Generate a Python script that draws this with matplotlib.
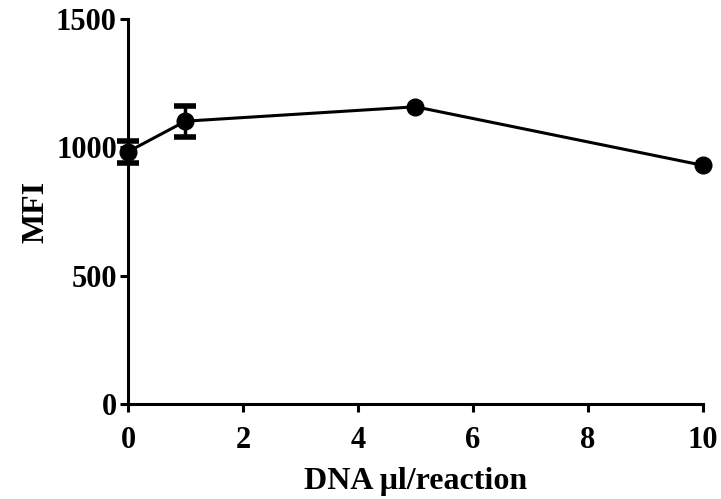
import matplotlib.pyplot as plt
import numpy as np

dna = [0, 1, 5, 10]
mfi = [983, 1102, 1158, 930]
err = [42, 60, 0, 0]

plt.rcParams['font.family'] = 'Liberation Serif'
plt.rcParams['font.weight'] = 'bold'

fig = plt.figure(figsize=(7.21, 4.99), dpi=100)
ax = fig.add_axes([0.1775, 0.19, 0.7975, 0.772])

ax.plot(dna, mfi, color='black', lw=2.2, marker='o', markersize=12,
        clip_on=False, zorder=3)
# error bars only where the SD is non-zero
has_err = [i for i in range(len(dna)) if err[i] > 0]
ax.errorbar([dna[i] for i in has_err], [mfi[i] for i in has_err],
            yerr=[err[i] for i in has_err], fmt='none', ecolor='black',
            capsize=8, capthick=4, elinewidth=2.5, clip_on=False, zorder=3)

ax.set_xlim(0, 10)
ax.set_ylim(0, 1500)
ax.set_xticks([0, 2, 4, 6, 8, 10])
ax.set_yticks([0, 500, 1000, 1500])

ax.spines['top'].set_visible(False)
ax.spines['right'].set_visible(False)
for s in ['left', 'bottom']:
    ax.spines[s].set_linewidth(2.2)
ax.tick_params(axis='both', width=2.2, length=6, labelsize=22)
ax.tick_params(axis='x', pad=10)
ax.tick_params(axis='y', pad=2)

ax.set_xlabel('DNA \u03bcl/reaction', fontsize=23, fontweight='bold', labelpad=8)
ax.set_ylabel('MFI', fontsize=23, fontweight='bold', labelpad=4)

fig.savefig('out.png', dpi=100)
